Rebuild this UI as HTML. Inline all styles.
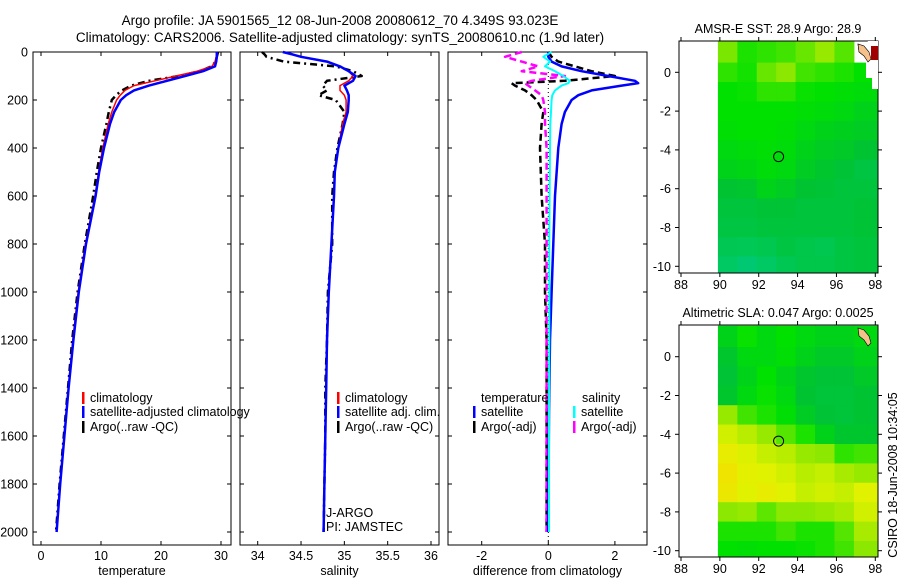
<!DOCTYPE html>
<html><head><meta charset="utf-8">
<style>
body{margin:0;background:#fff;}
svg{font-family:"Liberation Sans",sans-serif;}
</style></head>
<body>
<svg id="fig" width="900" height="580" viewBox="0 0 900 580" xmlns="http://www.w3.org/2000/svg">
<rect width="900" height="580" fill="#fff"/>
<text x="340" y="25" font-size="13.5" text-anchor="middle">Argo profile: JA 5901565_12 08-Jun-2008 20080612_70 4.349S 93.023E</text>
<text x="340" y="42" font-size="13.5" text-anchor="middle">Climatology: CARS2006. Satellite-adjusted climatology: synTS_20080610.nc (1.9d later)</text>
<g id="g"></g>
<text transform="translate(897,475) rotate(-90)" font-size="12.5" text-anchor="middle">CSIRO 18-Jun-2008 10:34:05</text>
</svg>
<script>
// ---- profile data ----
const depth = [0,10,20,40,60,80,100,120,140,160,180,200,250,300,400,500,600,800,1000,1200,1400,1600,1800,2000];
const tempClim = [29.3,29.3,29.2,29.0,28.5,26,22.5,19,15.5,14,13.2,12.6,11.8,11.2,10.3,9.6,9.0,7.4,6.2,5.3,4.6,3.9,3.2,2.6];
const tempSat = [29.3,29.3,29.3,29.2,29,27,24,21,18,15.5,14.2,13.3,12.2,11.5,10.5,9.7,9.1,7.5,6.3,5.4,4.6,3.9,3.2,2.6];
const tempArgo = [29.5,29.4,29.3,29.1,28.4,26.5,23,18,15,13.5,12.5,11.8,11.3,10.9,10.0,9.3,8.7,7.3,6.1,5.2,4.5,3.8,3.1,2.5];
const salClim = [34.3,34.4,34.5,34.8,34.95,35.05,35.1,35.05,34.95,34.95,35.0,35.02,35.02,34.98,34.93,34.89,34.88,34.85,34.82,34.8,34.79,34.78,34.77,34.76];
const salSat = [34.29,34.4,34.5,34.8,34.95,35.05,35.13,35.1,35.0,35.03,35.05,35.05,35.04,35.0,34.93,34.89,34.88,34.85,34.82,34.8,34.79,34.78,34.77,34.76];
const salArgo = [34.05,34.08,34.1,34.3,34.9,35.1,35.2,34.8,34.75,34.8,34.7,34.9,35.0,34.98,34.92,34.88,34.86,34.86,34.81,34.8,34.78,34.78,34.77,34.76];
const diffDepth = [0,20,40,60,80,100,120,130,140,160,180,200,250,300,400,600,800,1000,1200,1500,2000];
const tSatDiff = [0,0,0.1,0.4,1.0,1.8,2.6,2.7,2.2,1.3,0.9,0.7,0.5,0.4,0.3,0.2,0.15,0.1,0.05,0.02,0];
const tArgoDiff = [0,0.1,0.3,0.8,1.3,2.0,0.5,-1.1,-1.0,-0.7,-0.5,-0.35,-0.15,-0.2,-0.25,-0.2,-0.1,-0.1,-0.05,-0.05,-0.05];
const sSatDiff = [0.1,-0.15,0.05,-0.1,0.2,0.45,0.65,0.6,0.4,0.2,0.12,0.1,0.08,0.06,0.05,0.04,0.03,0.03,0.03,0.02,0.02];
const sArgoDiff = [-0.8,-1.3,-0.8,-0.3,-0.8,0.5,-0.5,-0.7,-0.6,-0.4,-0.2,-0.15,-0.1,-0.1,-0.05,-0.05,-0.05,-0.05,-0.05,-0.05,-0.05];
const depthTicks = [0,200,400,600,800,1000,1200,1400,1600,1800,2000];
const tempTicks = [0,10,20,30];
const salTicks = ["34","34.5","35","35.5","36"];
const diffTicks = [-2,0,2];
// ---- map data (1-degree cells, lon 90..98, lat rows from top) ----
const mapLons = [90,91,92,93,94,95,96,97];
const mapLatTop = [1.6,0.5,-0.5,-1.5,-2.5,-3.5,-4.5,-5.5,-6.5,-7.5,-8.5,-9.5];
const mapLatBot = [0.5,-0.5,-1.5,-2.5,-3.5,-4.5,-5.5,-6.5,-7.5,-8.5,-9.5,-10.4];
const sstVals = [
[0.68,0.58,0.6,0.62,0.66,0.72,0.64,null],
[0.6,0.57,0.66,0.7,0.62,0.6,0.58,0.55],
[0.55,0.56,0.6,0.6,0.56,0.55,0.54,0.53],
[0.55,0.55,0.55,0.55,0.54,0.53,0.52,0.5],
[0.54,0.55,0.55,0.54,0.52,0.5,0.49,0.48],
[0.52,0.53,0.54,0.53,0.5,0.48,0.47,0.45],
[0.5,0.51,0.53,0.52,0.48,0.46,0.44,0.4],
[0.45,0.46,0.5,0.48,0.45,0.44,0.42,0.42],
[0.42,0.42,0.44,0.44,0.42,0.42,0.42,0.44],
[0.4,0.4,0.42,0.42,0.42,0.42,0.42,0.44],
[0.35,0.34,0.36,0.4,0.38,0.36,0.4,0.42],
[0.3,0.25,0.3,0.35,0.38,0.38,0.4,0.42]];
const slaVals = [
[0.5,0.56,0.52,0.55,0.52,0.5,0.5,0.52],
[0.46,0.52,0.52,0.54,0.5,0.47,0.47,0.5],
[0.44,0.5,0.55,0.5,0.46,0.44,0.44,0.47],
[0.46,0.52,0.56,0.52,0.45,0.43,0.43,0.45],
[0.72,0.62,0.58,0.54,0.48,0.44,0.43,0.45],
[0.82,0.78,0.72,0.64,0.58,0.5,0.46,0.46],
[0.88,0.84,0.8,0.78,0.72,0.7,0.6,0.62],
[0.92,0.86,0.85,0.82,0.78,0.8,0.75,0.72],
[0.9,0.85,0.88,0.85,0.8,0.82,0.8,0.85],
[0.7,0.72,0.65,0.7,0.7,0.72,0.75,0.82],
[0.58,0.58,0.58,0.62,0.58,0.58,0.64,0.75],
[0.55,0.54,0.55,0.55,0.56,0.58,0.62,0.7]];
const lonTicks = [88,90,92,94,96,98];
const latTicks = [0,-2,-4,-6,-8,-10];
const argoLon = [93.023];
const argoLat = [-4.349];

const NS="http://www.w3.org/2000/svg";
const G=document.getElementById('g');
function el(tag,attrs,parent){const e=document.createElementNS(NS,tag);for(const k in attrs)e.setAttribute(k,attrs[k]);(parent||G).appendChild(e);return e;}
function txt(x,y,s,size,anchor,parent){const t=el('text',{x:x,y:y,'font-size':size,'text-anchor':anchor||'middle'},parent);t.textContent=s;return t;}

const yD = d => 52 + d*0.24;
const panels=[
 {x0:33,x1:231,xs:v=>41+v*6,ticks:tempTicks,label:'temperature',name:'temperature-panel'},
 {x0:240,x1:439,xs:v=>257.7+(v-34)*86.65,ticks:salTicks,label:'salinity',name:'salinity-panel'},
 {x0:448,x1:647,xs:v=>548.3+v*33.3,ticks:diffTicks,label:'difference from climatology',name:'difference-panel'}];
panels.forEach((p,i)=>{
 const g=el('g',{});
 
 
 el('rect',{x:p.x0,y:52,width:p.x1-p.x0,height:493,fill:'none',stroke:'#000','stroke-width':1},g);
 depthTicks.forEach(d=>{
  el('line',{x1:p.x0,x2:p.x0+4,y1:yD(d),y2:yD(d),stroke:'#000'},g);
  el('line',{x1:p.x1,x2:p.x1-4,y1:yD(d),y2:yD(d),stroke:'#000'},g);
  if(i==0){const t=txt(28,yD(d)+4.5,String(d),12.5,'end',g);}
 });
 p.ticks.forEach(v=>{
  const x=p.xs(+v);
  el('line',{x1:x,x2:x,y1:545,y2:541,stroke:'#000'},g);
  el('line',{x1:x,x2:x,y1:52,y2:56,stroke:'#000'},g);
  const t=txt(x,560,String(v),12.5,'middle',g);
  
  
 });
 const lb=txt((p.x0+p.x1)/2,575,p.label,12.5,'middle',g);
 
 
});
function line(xs,vals,deps,color,w,dash,name){
 const pts=vals.map((v,i)=>xs(v).toFixed(1)+','+yD(deps[i]).toFixed(1)).join(' ');
 const a={points:pts,fill:'none',stroke:color,'stroke-width':w,'stroke-linejoin':'round'};
 if(dash)a['stroke-dasharray']=dash;
 const l=el('polyline',a);
 
 
}
const P=panels;
line(P[0].xs,tempArgo,depth,'#000',2.5,'7,4,2,4','temp-argo-line');
line(P[0].xs,tempClim,depth,'#f00',1.5,null,'temp-climatology-line');
line(P[0].xs,tempSat,depth,'#00f',2.5,null,'temp-satellite-line');
line(P[1].xs,salArgo,depth,'#000',2.5,'7,4,2,4','sal-argo-line');
line(P[1].xs,salClim,depth,'#f00',1.5,null,'sal-climatology-line');
line(P[1].xs,salSat,depth,'#00f',2.5,null,'sal-satellite-line');
const zl=el('line',{x1:548.3,x2:548.3,y1:52,y2:545,stroke:'#000','stroke-dasharray':'1,3'});


line(P[2].xs,tArgoDiff,diffDepth,'#000',2.5,'7,4','temp-argo-diff-line');
line(P[2].xs,sArgoDiff,diffDepth,'#f0f',2.5,'7,4','sal-argo-diff-line');
line(P[2].xs,tSatDiff,diffDepth,'#00f',2.5,null,'temp-satellite-diff-line');
line(P[2].xs,sSatDiff,diffDepth,'#0ff',2,null,'sal-satellite-diff-line');

function legendEntry(x,y,color,label){
 const g=el('g',{});
 
 
 el('rect',{x:x,y:y-10,width:2.5,height:12,fill:color},g);
 txt(x+8,y,label,12.5,'start',g);
}
legendEntry(82,402,'#f00','climatology');
legendEntry(82,416,'#00f','satellite-adjusted climatology');
legendEntry(82,431,'#000','Argo(..raw -QC)');
legendEntry(337,402,'#f00','climatology');
legendEntry(337,416,'#00f','satellite adj. clim.');
legendEntry(337,431,'#000','Argo(..raw -QC)');
txt(481,402,'temperature',12.5,'start');
txt(582,402,'salinity',12.5,'start');
legendEntry(473,416,'#00f','satellite');
legendEntry(473,431,'#000','Argo(-adj)');
legendEntry(573,416,'#0ff','satellite');
legendEntry(573,431,'#f0f','Argo(-adj)');
txt(326,517,'J-ARGO',12.5,'start');
txt(326,531,'PI: JAMSTEC',12.5,'start');

function cmap(v){
 const s=[[0,[0,200,190]],[0.33,[0,200,90]],[0.45,[0,195,50]],[0.55,[0,225,0]],[0.7,[140,232,0]],[0.85,[225,242,0]],[1,[255,210,0]]];
 for(let i=1;i<s.length;i++){if(v<=s[i][0]){const a=s[i-1],b=s[i],t=(v-a[0])/(b[0]-a[0]);return 'rgb('+a[1].map((c,k)=>Math.round(c+(b[1][k]-c)*t)).join(',')+')';}}
 return 'rgb(255,210,0)';
}
function drawMap(top,bot,lat0y,title,vals,name){
 const g=el('g',{});
 
 
 const xl=lon=>681+(lon-88)*19.43, yl=lat=>lat0y-lat*19.4;
 vals.forEach((row,r)=>row.forEach((v,c)=>{
  if(v===null)return;
  const x0=xl(mapLons[c]-0.1),x1=Math.min(878,xl(mapLons[c]+0.9)+(c==7?6:0));
  const y0=Math.max(top,yl(mapLatTop[r])),y1=Math.min(bot,yl(mapLatBot[r]));
  const cell=el('rect',{x:x0,y:y0,width:x1-x0+0.5,height:y1-y0+0.5,fill:cmap(v)},g);
  
  
 }));
 el('rect',{x:679,y:top,width:199,height:bot-top,fill:'none',stroke:'#000'},g);
 lonTicks.forEach(l=>{const x=xl(l);el('line',{x1:x,x2:x,y1:bot,y2:bot+4,stroke:'#000'},g);el('line',{x1:x,x2:x,y1:top,y2:top-4,stroke:'#000'},g);txt(x,bot+16,String(l),12.5,'middle',g);});
 latTicks.forEach(l=>{const y=yl(l);el('line',{x1:679,x2:675,y1:y,y2:y,stroke:'#000'},g);el('line',{x1:878,x2:882,y1:y,y2:y,stroke:'#000'},g);txt(671,y+4.5,String(l),12.5,'end',g);});
 txt(778,top-8,title,12.5,'middle',g);
 el('path',{d:`M858,${top+3} l6,2 l5,6 l2,7 l-3,3 l-4,-6 l-5,-4 z`,fill:'#f5c08a',stroke:'#000','stroke-width':0.6},g);
 const m=el('circle',{cx:xl(argoLon[0]),cy:yl(argoLat[0]),r:5,fill:'none',stroke:'#000'},g);
 
 
 return g;
}
const g1=drawMap(41,273,72.3,'AMSR-E SST: 28.9 Argo: 28.9',sstVals,'sst-map');
el('path',{d:'M868,41 L878,41 L878,89 L872,89 L872,78 L866,78 L866,60 L862,60 L862,48 Z',fill:'#fff'},g1);
el('path',{d:'M858,44 l6,2 l5,6 l2,7 l-3,3 l-4,-6 l-5,-4 z',fill:'#f5c08a',stroke:'#000','stroke-width':0.6},g1);
el('rect',{x:871,y:46,width:7,height:14,fill:'#a00000'},g1);
drawMap(325,557,356.7,'Altimetric SLA: 0.047 Argo: 0.0025',slaVals,'sla-map');
</script>
</body></html>
